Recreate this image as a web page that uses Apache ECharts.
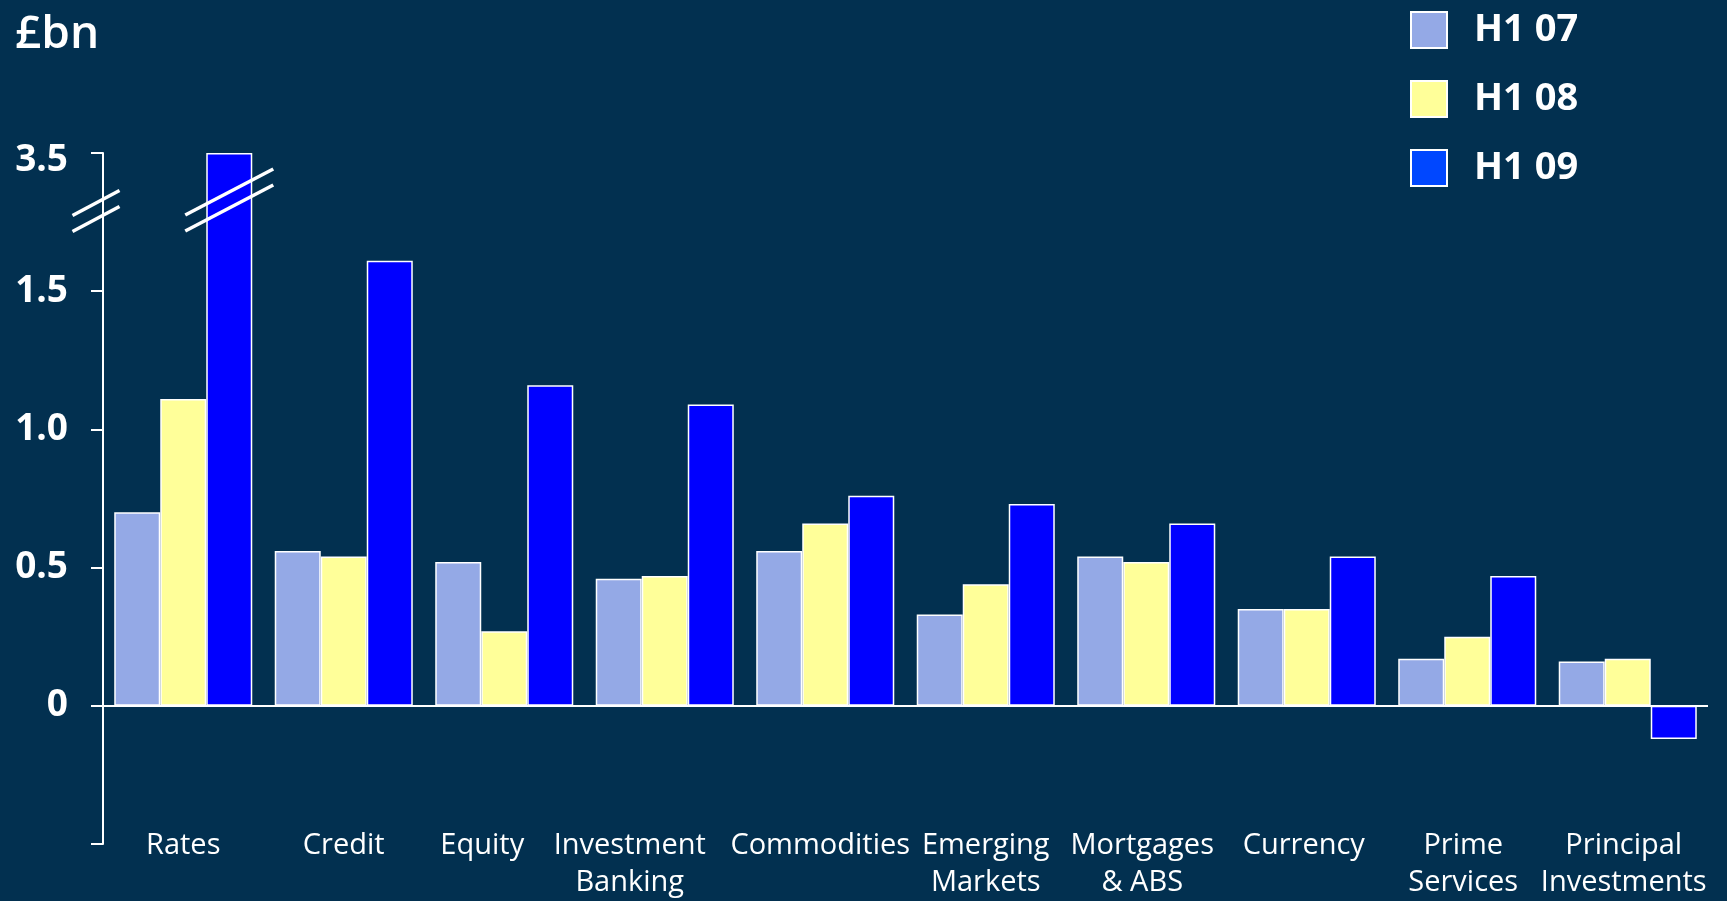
<!DOCTYPE HTML>
<html>
<meta charset="utf-8"/>
<style>
html,body{margin:0;padding:0;background:#023050;}
</style>
<div id="main" style="width:1727px;height:901px;"></div>
<script src="https://cdn.jsdelivr.net/npm/echarts@6/dist/echarts.min.js"></script>
<script>
var categories = ['Rates', 'Credit', 'Equity', 'Investment\nBanking', 'Commodities', 'Emerging\nMarkets', 'Mortgages\n& ABS', 'Currency', 'Prime\nServices', 'Principal\nInvestments'];
var h107 = [0.70, 0.56, 0.52, 0.46, 0.56, 0.33, 0.54, 0.35, 0.17, 0.16];
var h108 = [1.11, 0.54, 0.27, 0.47, 0.66, 0.44, 0.52, 0.35, 0.25, 0.17];
var h109 = [3.5, 1.61, 1.16, 1.09, 0.76, 0.73, 0.66, 0.54, 0.47, -0.12];
var seriesNames = ['H1 07', 'H1 08', 'H1 09'];
var barColors = ['#94a9e6', '#ffff99', '#0000ff'];
var legendColors = ['#94a9e6', '#ffff99', '#0047ff'];
// axis is broken: the top tick (2.0 on the scale) stands for 3.5
var tickValues = [-0.5, 0, 0.5, 1, 1.5, 2];
var tickLabels = ['', '0', '0.5', '1.0', '1.5', '3.5'];
var breakValue = 3.5, axisTop = 2;

function toAxis(v){ return v >= breakValue ? axisTop : v; }

var labelShift = {'Equity': 44, 'Investment\nBanking': 70, 'Commodities': 10, 'Mortgages\n& ABS': 8, 'Currency': 6, 'Prime\nServices': 8, 'Principal\nInvestments': 8};
var xData = categories.map(function(c){
    if (labelShift[c]) return {value: c, textStyle: {padding: [0, labelShift[c], 0, 0]}};
    return c;
});

var myChart = echarts.init(document.getElementById('main'));
var font = '"Open Sans", "Noto Sans", sans-serif';

function bar(i, arr){
    var s = {
        name: seriesNames[i],
        type: 'bar',
        barGap: 0,
        barCategoryGap: '14%',
        itemStyle: {color: barColors[i], borderColor: '#ffffff', borderWidth: 1.5},
        data: arr.map(toAxis),
        z: 3
    };
    return s;
}
var s0 = bar(0, h107);
s0.markLine = {
    silent: true, symbol: 'none',
    label: {show: false},
    lineStyle: {color: '#ffffff', width: 2, type: 'solid'},
    data: [{yAxis: 0}],
    z: 5
};

var option = {
    backgroundColor: '#023050',
    animation: false,
    textStyle: {fontFamily: font},
    title: {
        text: '£bn', left: 10, top: 7,
        textStyle: {color: '#ffffff', fontSize: 46, fontWeight: 600, fontFamily: font}
    },
    legend: {
        orient: 'vertical', left: 1405, top: 6,
        itemWidth: 36, itemHeight: 36, itemGap: 31,
        icon: 'rect',
        selectedMode: false,
        textStyle: {color: '#ffffff', fontSize: 38, fontWeight: 'bold', lineHeight: 36, padding: [0, 0, 0, 22], fontFamily: font},
        data: seriesNames.map(function(n, i){
            return {name: n, itemStyle: {color: legendColors[i], borderColor: '#ffffff', borderWidth: 2}};
        })
    },
    grid: {left: 103, right: 19, top: 153, bottom: 53},
    xAxis: {
        type: 'category',
        data: xData,
        position: 'bottom',
        axisLine: {show: false, onZero: false},
        axisTick: {show: false},
        axisLabel: {
            color: '#ffffff', fontSize: 29, lineHeight: 37, margin: -17,
            interval: 0, fontFamily: font
        }
    },
    yAxis: {
        type: 'value',
        min: -0.5, max: 2, interval: 0.5,
        axisLine: {show: true, lineStyle: {color: '#ffffff', width: 2}},
        axisTick: {show: true, length: 12, lineStyle: {color: '#ffffff', width: 2}},
        splitLine: {show: false},
        axisLabel: {
            color: '#ffffff', fontSize: 37, fontWeight: 'bold', margin: 35, fontFamily: font,
            formatter: function(v){
                for (var i = 0; i < tickValues.length; i++) {
                    if (Math.abs(tickValues[i] - v) < 1e-6) {
                        return v === axisTop ? '{top|' + tickLabels[i] + '}' : tickLabels[i];
                    }
                }
                return '';
            },
            rich: {
                top: {color: '#ffffff', fontSize: 37, fontWeight: 'bold', fontFamily: font, padding: [14, 0, 0, 0]}
            }
        }
    },
    series: [s0, bar(1, h108), bar(2, h109)]
};
myChart.setOption(option);

// break marks on the axis and on the tall bar
function breakMarks(cx, cy, w, h){
    var style = {stroke: '#ffffff', lineWidth: 3.5};
    return [
        {type: 'line', shape: {x1: cx - w / 2, y1: cy + h / 2 - 8, x2: cx + w / 2, y2: cy - h / 2 - 8}, style: style, z: 10},
        {type: 'line', shape: {x1: cx - w / 2, y1: cy + h / 2 + 8, x2: cx + w / 2, y2: cy - h / 2 + 8}, style: style, z: 10}
    ];
}
var p0 = myChart.convertToPixel({gridIndex: 0}, [0, 1.81]);
var p1 = myChart.convertToPixel({gridIndex: 0}, [1, 1.81]);
var band = p1[0] - p0[0];
var axisLeft = 103;
var barCx = p0[0] + band * 0.86 / 3;
var marks = breakMarks(axisLeft - 7, myChart.convertToPixel({yAxisIndex: 0}, 1.79), 47, 25)
    .concat(breakMarks(barCx, myChart.convertToPixel({yAxisIndex: 0}, 1.83), 88, 46));
myChart.setOption({graphic: marks});
</script>
</html>
